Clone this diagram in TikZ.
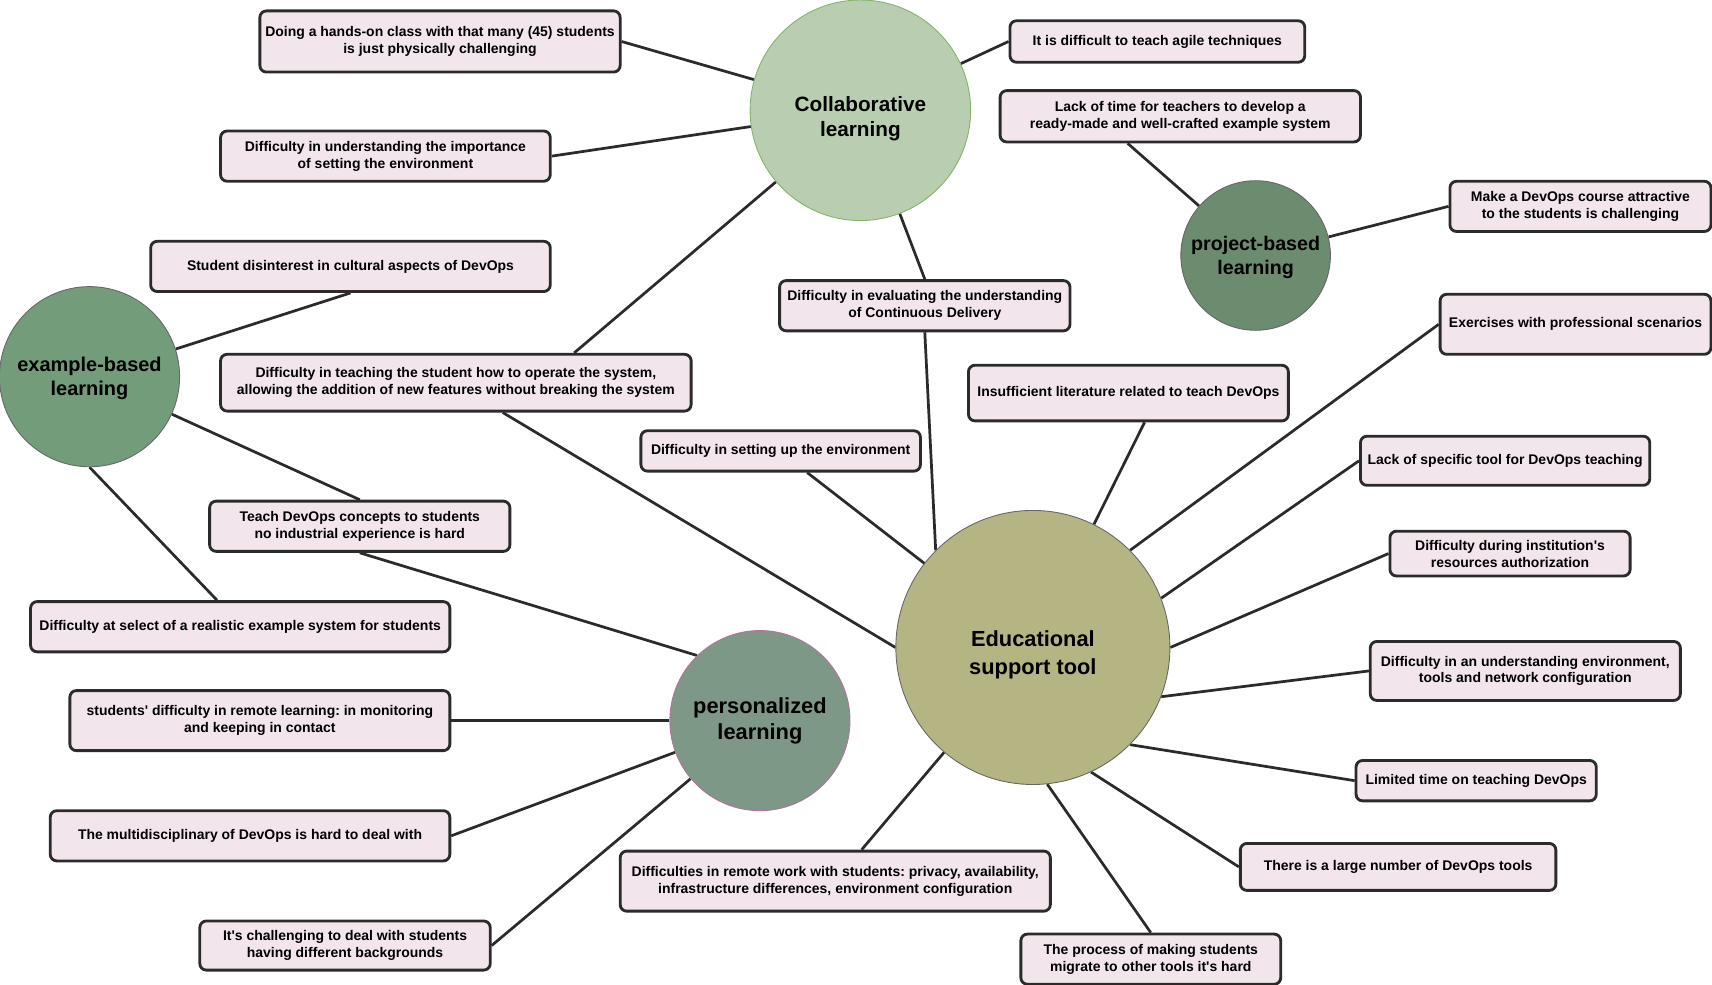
\documentclass[tikz,border=0pt]{standalone}
\usepackage{fontspec}
\setmainfont{Liberation Sans}
\usetikzlibrary{calc}
\pgfdeclarelayer{bg}
\pgfsetlayers{bg,main}
\definecolor{boxfill}{HTML}{F2E6EC}
\definecolor{boxline}{HTML}{2B2B2B}
\definecolor{edgecol}{HTML}{2B2B2B}
\definecolor{collabfill}{HTML}{B9CEB0}
\definecolor{collabline}{HTML}{82B366}
\definecolor{projfill}{HTML}{6B8C6E}
\definecolor{examfill}{HTML}{739C7A}
\definecolor{persfill}{HTML}{7D9886}
\definecolor{persline}{HTML}{B5739D}
\definecolor{educfill}{HTML}{B5B584}
\definecolor{grayline}{HTML}{666666}
\newcommand{\apos}{\textquotesingle}
\newcommand{\lowered}[2]{\raisebox{-#1}[\height][\depth]{\begin{tabular}{@{}c@{}}#2\end{tabular}}}
\frenchspacing
\begin{document}
\frenchspacing
\begin{tikzpicture}[x=1pt,y=-1pt,
  bx/.style={draw=boxline, line width=2.6pt, fill=boxfill, rounded corners=6pt,
    align=center, inner sep=2pt, font=\fontsize{12.8}{15.5}\selectfont\bfseries\frenchspacing},
  topic/.style={circle, inner sep=0pt, align=center, line width=0.8pt,
    font=\fontsize{19}{23}\selectfont\bfseries},
  link/.style={draw=edgecol, line width=2.5pt}]
\useasboundingbox (0,0) rectangle (1568,902);

% topic circles
\node[topic, fill=collabfill, draw=collabline, minimum size=202pt] (collab) at (788,101) {\lowered{8pt}{Collaborative\\learning}};
\node[topic, fill=projfill, draw=grayline, minimum size=137pt, font=\fontsize{18}{22}\selectfont\bfseries] (proj) at (1150,234) {\lowered{2pt}{project-based\\learning}};
\node[topic, fill=examfill, draw=grayline, minimum size=165pt, font=\fontsize{18.3}{22}\selectfont\bfseries] (exam) at (82,345) {\lowered{2pt}{example-based\\learning}};
\node[topic, fill=persfill, draw=persline, minimum size=165pt, font=\fontsize{20}{24}\selectfont\bfseries] (pers) at (696,660) {personalized\\learning};
\node[topic, fill=educfill, draw=grayline, minimum size=251pt, font=\fontsize{20}{25}\selectfont\bfseries] (educ) at (946,593) {\lowered{7pt}{Educational\\support tool}};

% boxes
\node[bx, minimum width=330pt, minimum height=56pt] (b1) at (403,38) {Doing a hands-on class with that many (45) students\\is just physically challenging};
\node[bx, minimum width=270pt, minimum height=38pt] (b2) at (1060,38) {It is difficult to teach agile techniques};
\node[bx, minimum width=302pt, minimum height=46pt] (b3) at (353,143) {Difficulty in understanding the importance\\of setting the environment};
\node[bx, minimum width=330pt, minimum height=47pt] (b4) at (1081,106.5) {Lack of time for teachers to develop a\\ready-made and well-crafted example system};
\node[bx, minimum width=366pt, minimum height=46pt] (b5) at (321,244) {Student disinterest in cultural aspects of DevOps};
\node[bx, minimum width=239pt, minimum height=46pt] (b6) at (1447.5,189) {Make a DevOps course attractive\\to the students is challenging};
\node[bx, minimum width=266pt, minimum height=46pt] (b7) at (847,280) {Difficulty in evaluating the understanding\\of Continuous Delivery};
\node[bx, minimum width=248pt, minimum height=55pt] (b8) at (1443,297) {Exercises with professional scenarios};
\node[bx, minimum width=431pt, minimum height=52pt] (b9) at (417.5,350.5) {Difficulty in teaching the student how to operate the system,\\allowing the addition of new features without breaking the system};
\node[bx, minimum width=293pt, minimum height=51pt] (b10) at (1033.5,360) {Insufficient literature related to teach DevOps};
\node[bx, minimum width=256pt, minimum height=37pt] (b11) at (715,413) {Difficulty in setting up the environment};
\node[bx, minimum width=265pt, minimum height=45pt] (b12) at (1378.5,422) {Lack of specific tool for DevOps teaching};
\node[bx, minimum width=275pt, minimum height=46pt] (b13) at (329.5,482) {Teach DevOps concepts to students\\no industrial experience is hard};
\node[bx, minimum width=220pt, minimum height=41pt] (b14) at (1383,507) {Difficulty during institution\apos s\\resources authorization};
\node[bx, minimum width=384pt, minimum height=46pt] (b15) at (220,574) {Difficulty at select of a realistic example system for students};
\node[bx, minimum width=284pt, minimum height=54pt] (b16) at (1397,614.5) {Difficulty in an understanding environment,\\tools and network configuration};
\node[bx, minimum width=348pt, minimum height=55pt] (b17) at (238,660) {students\apos\ difficulty in remote learning: in monitoring\\and keeping in contact};
\node[bx, minimum width=220pt, minimum height=37pt] (b18) at (1352,715) {Limited time on teaching DevOps};
\node[bx, minimum width=366pt, minimum height=46pt] (b19) at (229,765.5) {The multidisciplinary of DevOps is hard to deal with};
\node[bx, minimum width=394pt, minimum height=55pt] (b20) at (765,807) {Difficulties in remote work with students: privacy, availability,\\infrastructure differences, environment configuration};
\node[bx, minimum width=289pt, minimum height=43pt] (b21) at (1280.5,794) {There is a large number of DevOps tools};
\node[bx, minimum width=266pt, minimum height=45pt] (b22) at (316,866) {It\apos s challenging to deal with students\\having different backgrounds};
\node[bx, minimum width=238pt, minimum height=46pt] (b23) at (1054,878.5) {The process of making students\\migrate to other tools it\apos s hard};

% connectors
\begin{pgfonlayer}{bg}
\draw[link] (collab) -- (b1.east);
\draw[link] (collab) -- (b2.west);
\draw[link] (collab) -- (b3.east);
\draw[link] (collab) -- ($(b9.north west)!0.75!(b9.north east)$);
\draw[link] (collab) -- (b7.north);
\draw[link] ($(b4.south west)!0.355!(b4.south east)$) -- (proj);
\draw[link] (proj) -- (b6.west);
\draw[link] (exam) -- (b5.south);
\draw[link] (exam) -- (b13.north);
\draw[link] (exam.270) -- ($(b15.north west)!0.445!(b15.north east)$);
\draw[link] (b13.south) -- (pers.134);
\draw[link] ($(b9.south west)!0.599!(b9.south east)$) -- (educ.west);
\draw[link] (b7.south) -- (educ.135);
\draw[link] ($(b11.south west)!0.594!(b11.south east)$) -- (educ);
\draw[link] ($(b10.south west)!0.55!(b10.south east)$) -- (educ);
\draw[link] (b8.west) -- (educ.45);
\draw[link] (b12.west) -- (educ.21);
\draw[link] (b14.west) -- (educ.east);
\draw[link] (b16.west) -- (educ.-21);
\draw[link] (b18.west) -- (educ.-45);
\draw[link] (b21.west) -- (educ.-65);
\draw[link] (b23.north) -- (educ.-84);
\draw[link] ($(b20.north west)!0.561!(b20.north east)$) -- (educ);
\draw[link] (pers) -- (b17.east);
\draw[link] (pers) -- (b19.east);
\draw[link] (pers) -- (b22.east);
\end{pgfonlayer}
\end{tikzpicture}
\end{document}
